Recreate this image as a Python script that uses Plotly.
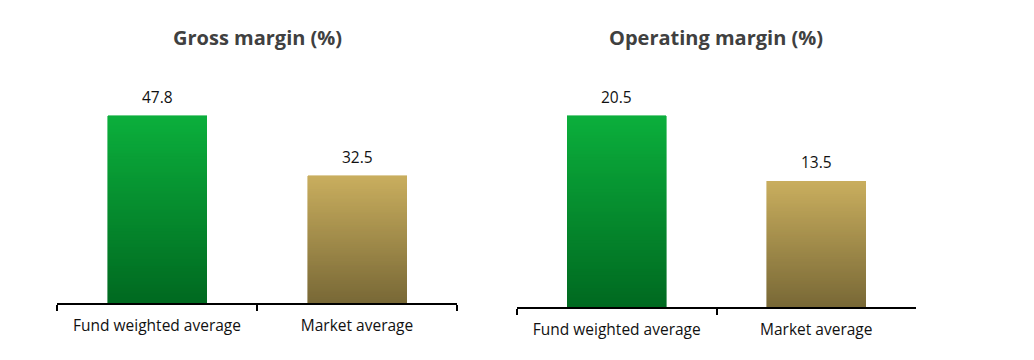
import plotly.graph_objects as go

categories = ["Fund weighted average", "Market average"]
gross_margin = [47.8, 32.5]
operating_margin = [20.5, 13.5]
titles = ["Gross margin (%)", "Operating margin (%)"]

# gradient colours (top, bottom) per category
grad_top = [(11, 175, 60), (201, 174, 94)]
grad_bot = [(0, 105, 32), (120, 104, 54)]
N_SEG = 60

W, H = 1034, 360
OFF = 8  # page body margin offset
FONT = "Open Sans"


def lerp(c1, c2, t):
    return "rgb(%d,%d,%d)" % tuple(round(a + (b - a) * t) for a, b in zip(c1, c2))


def px_x(x):
    return (x - OFF) / W


def px_y(y):
    return 1 - (y - OFF) / H


fig = go.Figure()

panels = [
    dict(values=gross_margin, xa="x", ya="y", ymax=62.1),
    dict(values=operating_margin, xa="x2", ya="y2", ymax=26.5),
]

for p in panels:
    vals = p["values"]
    for k in range(N_SEG):
        t = (k + 0.5) / N_SEG  # 0 bottom -> 1 top
        colors = [lerp(grad_bot[i], grad_top[i], t) for i in range(len(categories))]
        fig.add_trace(go.Bar(
            x=categories, y=[v / N_SEG for v in vals],
            marker=dict(color=colors, line=dict(width=0.6, color=colors)),
            xaxis=p["xa"], yaxis=p["ya"], showlegend=False, hoverinfo="skip",
        ))
    for c, v in zip(categories, vals):
        fig.add_annotation(
            x=c, y=v, xref=p["xa"], yref=p["ya"], text="%.1f" % v,
            showarrow=False, yanchor="middle", yshift=19,
            font=dict(family=FONT, size=15.5, color="#111111"),
        )

xdom = [[px_x(57), px_x(457)], [px_x(517), px_x(916)]]
ybot = [303, 307]
ytop = 60

axis_common = dict(
    type="category", tickson="boundaries", showline=True, linecolor="#000000",
    linewidth=2, ticks="outside", ticklen=6, tickwidth=2, tickcolor="#000000",
    showgrid=False, zeroline=False, ticklabelstandoff=7,
    tickfont=dict(family=FONT, size=15.5, color="#111111"),
)
yaxis_common = dict(visible=False, showgrid=False, zeroline=False)

fig.update_layout(
    width=W, height=H, margin=dict(l=0, r=0, t=0, b=0),
    paper_bgcolor="white", plot_bgcolor="white",
    barmode="stack", bargap=0.505,
    xaxis=dict(domain=xdom[0], anchor="y", **axis_common),
    xaxis2=dict(domain=xdom[1], anchor="y2", **axis_common),
    yaxis=dict(domain=[px_y(ybot[0]), px_y(ytop)], range=[0, panels[0]["ymax"]],
               anchor="x", **yaxis_common),
    yaxis2=dict(domain=[px_y(ybot[1]), px_y(ytop)], range=[0, panels[1]["ymax"]],
                anchor="x2", **yaxis_common),
)

for i, t in enumerate(titles):
    fig.add_annotation(
        x=(xdom[i][0] + xdom[i][1]) / 2, y=px_y(37), xref="paper", yref="paper",
        text="<b>%s</b>" % t, showarrow=False,
        font=dict(family=FONT, size=20, color="#404040"),
        xanchor="center", yanchor="middle",
    )

fig.write_html("out.html")
